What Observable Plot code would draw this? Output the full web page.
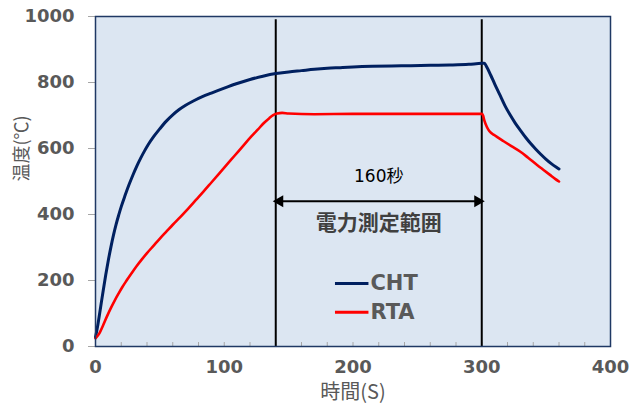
<!DOCTYPE html>
<html><head><meta charset="utf-8">
<script src="https://cdn.jsdelivr.net/npm/d3@7"></script>
<script src="https://cdn.jsdelivr.net/npm/@observablehq/plot@0.6"></script>
<style>body{margin:0;background:#fff;}</style>
</head><body><div id="chart"></div>
<script>
// CHT series (time s, temperature °C)
const chtTime = [0,2,4,6,8,10,12,14,16,18,20,23,26,29,32,35,38,41,45,50,55,60,65,70,76,83,90,100,110,120,130,140,150,160,170,180,190,200,215,230,245,260,275,290,300,302,304,307,310,314,318,322,326,330,334,338,342,346,350,354,358,360];
const chtTemp = [28,70,120,170,218,262,302,338,370,398,424,458,490,519,546,570,592,612,635,660,683,702,718,731,744,757,768,783,797,809,819,827,832,836,840,843,845,847,849,850,851,852,853,855,858,858,846,822,796,763,730,702,677,655,634,615,598,582,567,554,543,538];
// RTA series
const rtaTime = [0,3,6,9,12,15,18,21,24,28,32,36,40,45,50,55,60,66,72,78,84,90,96,102,108,114,120,126,131,135,138,141,145,150,170,200,250,300,301,302,304,306,310,317,323,330,336,343,348,353,357,360];
const rtaTemp = [25,40,65,92,117,140,161,181,199,222,244,264,283,305,327,348,369,393,418,444,470,497,524,551,578,605,632,657,678,692,701,706,708,706,704,705,705,705,700,685,665,652,640,622,607,590,572,550,535,520,508,500];

const seriesNames = ["CHT", "RTA"];
const seriesColors = ["#002060", "#ff0000"];
const xTicks = [0, 100, 200, 300, 400];
const xMinorTicks = d3.range(0, 401, 20);
const yTicks = [0, 200, 400, 600, 800, 1000];
const xTitle = "時間(S)";
const yTitle = "温度(℃)";
const rangeMarks = [140, 300];
const rangeTop = 990;
const arrowY = 440;
const spanLabel = "160秒";
const spanLabelY = 514;
const rangeLabel = "電力測定範囲";
const rangeLabelY = 372;
const legendX = [186, 212];
const legendY = [191, 104];

const cht = chtTime.map((t, i) => ({t, v: chtTemp[i]}));
const rta = rtaTime.map((t, i) => ({t, v: rtaTemp[i]}));
const mid = (rangeMarks[0] + rangeMarks[1]) / 2;
const legend = seriesNames.map((name, i) => ({name, color: seriesColors[i], y: legendY[i]}));

const chart = Plot.plot({
  width: 643, height: 411,
  marginLeft: 95, marginRight: 33, marginTop: 16, marginBottom: 65,
  style: {fontFamily: "'DejaVu Sans', 'Noto Sans CJK JP', sans-serif", background: "white", overflow: "visible"},
  x: {domain: [0, 400]},
  y: {domain: [0, 1000]},
  marks: [
    Plot.frame({fill: "#dce6f2", stroke: null}),
    Plot.ruleX(xMinorTicks, {y1: 0, y2: 12, stroke: "#a6a6a6", strokeWidth: 1}),
    Plot.axisY({ticks: yTicks, tickFormat: d => String(d), tickSize: 7, tickPadding: 14, fontSize: 18, fontWeight: "bold", color: "#595959", label: null}),
    Plot.axisX({ticks: xTicks, tickFormat: d => String(d), tickSize: 0, tickPadding: 14, fontSize: 18, fontWeight: "bold", color: "#595959", label: null}),
    Plot.text([xTitle], {frameAnchor: "bottom", dy: 52, fontSize: 20, fill: "#595959", fontFamily: "'Noto Sans CJK JP', sans-serif"}),
    Plot.text([yTitle], {frameAnchor: "left", dx: -73, rotate: -90, fontSize: 18, fill: "#595959", fontFamily: "'Noto Sans CJK JP', sans-serif"}),
    Plot.ruleX(rangeMarks, {y1: 0, y2: rangeTop, stroke: "#000", strokeWidth: 2}),
    Plot.line(cht, {x: "t", y: "v", stroke: seriesColors[0], strokeWidth: 3, curve: "monotone-x"}),
    Plot.line(rta, {x: "t", y: "v", stroke: seriesColors[1], strokeWidth: 2.6, curve: "monotone-x"}),
    Plot.link([0], {x1: () => rangeMarks[0], x2: () => rangeMarks[1], y1: () => arrowY, y2: () => arrowY, stroke: "#000", strokeWidth: 2}),
    Plot.dot([rangeMarks[0]], {x: d => d, y: () => arrowY, symbol: "triangle", rotate: -90, r: 4.5, fill: "#000", stroke: null, dx: 4}),
    Plot.dot([rangeMarks[1]], {x: d => d, y: () => arrowY, symbol: "triangle", rotate: 90, r: 4.5, fill: "#000", stroke: null, dx: -4}),
    Plot.text([spanLabel], {x: () => mid, y: () => spanLabelY, fontSize: 17, fill: "#000"}),
    Plot.text([rangeLabel], {x: () => mid, y: () => rangeLabelY, fontSize: 21, fontWeight: "bold", fill: "#404040", fontFamily: "'Noto Sans CJK JP', sans-serif"}),
    Plot.link(legend, {x1: () => legendX[0], x2: () => legendX[1], y1: "y", y2: "y", stroke: "color", strokeWidth: 3}),
    Plot.text(legend, {x: () => legendX[1], y: "y", text: "name", textAnchor: "start", dx: 2, fontSize: 21, fontWeight: "bold", fill: "#595959"}),
    Plot.frame({stroke: "#1f3864", strokeWidth: 1.5})
  ]
});
chart.querySelectorAll('[aria-label="y-axis tick"]').forEach(g => g.setAttribute("stroke", "#a6a6a6"));
document.getElementById("chart").appendChild(chart);
</script>
</body></html>
